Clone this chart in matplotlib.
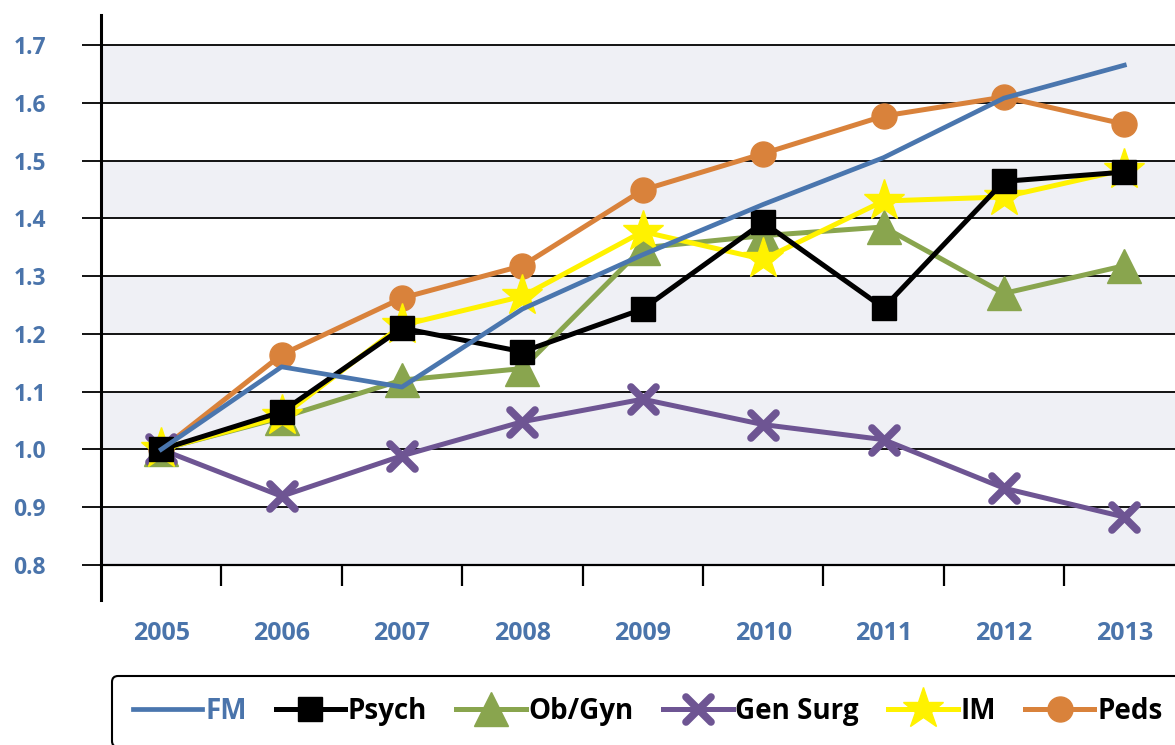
import numpy as np
import matplotlib
matplotlib.use("Agg")
import matplotlib.pyplot as plt
from matplotlib.markers import MarkerStyle

plt.rcParams['font.family'] = ['Open Sans', 'DejaVu Sans']
plt.rcParams['font.weight'] = 'bold'

years = ['2005', '2006', '2007', '2008', '2009', '2010', '2011', '2012', '2013']
fm = [1.0, 1.143, 1.108, 1.243, 1.337, 1.424, 1.505, 1.608, 1.665]
psych = [1.0, 1.065, 1.21, 1.169, 1.243, 1.393, 1.245, 1.464, 1.48]
obgyn = [1.0, 1.055, 1.12, 1.14, 1.349, 1.37, 1.385, 1.27, 1.318]
gensurg = [1.0, 0.919, 0.989, 1.048, 1.087, 1.043, 1.017, 0.933, 0.883]
im = [1.0, 1.057, 1.215, 1.265, 1.377, 1.329, 1.43, 1.437, 1.484]
peds = [1.0, 1.164, 1.262, 1.318, 1.449, 1.512, 1.577, 1.61, 1.563]
yticks = [0.8, 0.9, 1.0, 1.1, 1.2, 1.3, 1.4, 1.5, 1.6, 1.7]

blue_txt = '#4a74ab'
band = '#eff0f5'

fig = plt.figure(figsize=(11.75, 7.45), dpi=100)
ax = fig.add_axes([101 / 1175, 145 / 745, 1083.5 / 1175, 585 / 745])
x = np.arange(len(years))

# alternating shaded bands
for lo in [0.8, 1.0, 1.2, 1.4, 1.6]:
    ax.axhspan(lo, lo + 0.1, color=band, zorder=0.5, lw=0)

lw = 3.6
ax.plot(x, peds, color='#d9823b', lw=lw, marker='o', ms=18, label='Peds', zorder=3)
ax.plot(x, obgyn, color='#89a54e', lw=lw, marker='^', ms=24, label='Ob/Gyn', zorder=3.1)
ax.plot(x, gensurg, color='#6e5593', lw=lw,
        marker=MarkerStyle('x', capstyle='round'), ms=18, mew=5.5, label='Gen Surg', zorder=3.2)
ax.plot(x, im, color='#fff200', lw=lw, marker='*', ms=31, label='IM', zorder=3.3)
ax.plot(x, psych, color='black', lw=lw, marker='s', ms=17, label='Psych', zorder=3.4)
ax.plot(x, fm, color='#4a76ae', lw=3.4, label='FM', zorder=3.5)

ax.set_xlim(-0.5, 8.5)
ax.set_ylim(0.7394, 1.7519)

ax.set_yticks(yticks)
ax.set_yticklabels([f'{v:.1f}' for v in yticks])
ax.yaxis.grid(True, color='black', lw=1.3)
ax.set_axisbelow(True)

ax.set_xticks(x)
ax.set_xticklabels(years)
ax.set_xticks(x[:-1] + 0.5, minor=True)

for s in ['top', 'right']:
    ax.spines[s].set_visible(False)
ax.spines['left'].set_linewidth(2.2)
ax.spines['bottom'].set_position(('data', 0.8))
ax.spines['bottom'].set_linewidth(1.6)

ax.tick_params(axis='y', direction='out', length=13.7, width=1.3, pad=26,
               labelsize=16.5, labelcolor=blue_txt)
ax.tick_params(axis='x', which='major', length=0, pad=40,
               labelsize=18, labelcolor=blue_txt)
ax.tick_params(axis='x', which='minor', direction='out', length=15, width=1.6)
for t in ax.get_xticklabels() + ax.get_yticklabels():
    t.set_fontweight('bold')

handles, labels = ax.get_legend_handles_labels()
order = ['FM', 'Psych', 'Ob/Gyn', 'Gen Surg', 'IM', 'Peds']
hmap = dict(zip(labels, handles))
leg = fig.legend([hmap[k] for k in order], order, loc='upper left',
                 bbox_to_anchor=(112 / 1175, 1 - 676 / 745), ncol=6,
                 prop={'weight': 'bold', 'size': 20}, frameon=True, fancybox=True,
                 handlelength=2.5, handletextpad=0.1, columnspacing=1.05,
                 borderpad=0.75, borderaxespad=0)
leg.get_frame().set_edgecolor('black')
leg.get_frame().set_linewidth(1.5)
leg.get_frame().set_alpha(None)
leg.get_texts()[0].set_color(blue_txt)

fig.savefig('out.png', dpi=100)
